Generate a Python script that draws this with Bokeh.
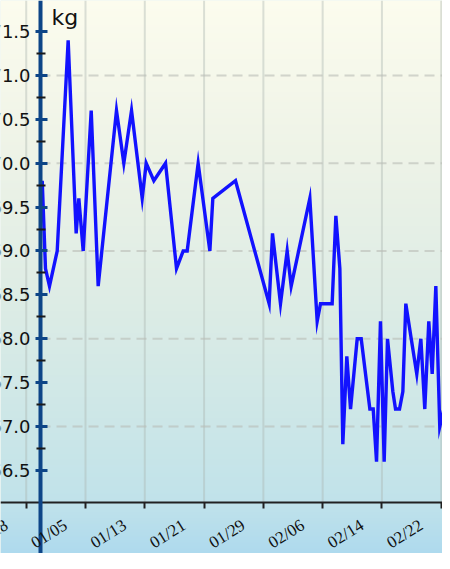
import numpy as np
from bokeh.plotting import figure
from bokeh.models import (LinearAxis, FixedTicker, PrintfTickFormatter, Label,
                          LabelSet, ColumnDataSource, Range1d)
from bokeh.embed import file_html
from bokeh.resources import INLINE

# ---- data (days counted from 01/05) ----
tick_labels = ["12/28", "01/05", "01/13", "01/21", "01/29", "02/06", "02/14", "02/22", "03/02"]
tick_days = [-8, 0, 8, 16, 24, 32, 40, 48, 56]

day_offsets = [-5.84, -5.40, -4.86, -3.82, -2.34, -1.26, -0.90, -0.31, 0.77, 1.71,
               4.18, 5.17, 6.21, 7.65, 8.19, 9.22, 10.80, 12.28, 13.18, 13.72,
               15.20, 16.78, 17.18, 20.24, 24.78, 25.23, 26.31, 27.21, 27.75, 30.27,
               31.26, 31.71, 33.28, 33.78, 34.32, 34.72, 35.26, 35.76, 36.66, 37.20,
               38.37, 38.82, 39.27, 39.80, 40.30, 40.75, 41.47, 41.83, 42.37, 42.82,
               43.22, 43.95, 44.70, 45.25, 45.78, 46.32, 46.78, 47.27, 47.80, 48.35,
               48.80, 49.25]
weights = [69.8, 68.8, 68.6, 69.0, 71.4, 69.2, 69.6, 69.0, 70.6, 68.6,
           70.6, 70.0, 70.6, 69.6, 70.0, 69.8, 70.0, 68.8, 69.0, 69.0,
           70.0, 69.0, 69.6, 69.8, 68.4, 69.2, 68.4, 69.0, 68.6, 69.6,
           68.2, 68.4, 68.4, 69.4, 68.8, 66.8, 67.8, 67.2, 68.0, 68.0,
           67.2, 67.2, 66.6, 68.2, 66.6, 68.0, 67.4, 67.2, 67.2, 67.4,
           68.4, 68.0, 67.6, 68.0, 67.2, 68.2, 67.6, 68.6, 67.0, 67.2,
           67.0, 67.2]

kg_ticks = [66.5, 67.0, 67.5, 68.0, 68.5, 69.0, 69.5, 70.0, 70.5, 71.0, 71.5]
kg_minor = [66.75, 67.25, 67.75, 68.25, 68.75, 69.25, 69.75, 70.25, 70.75, 71.25]
grid_kg = [67.0, 68.0, 69.0, 70.0, 71.0]
unit_label = "kg"

# ---- layout constants ----
W, H = 442, 553
x0, x1 = -11.47, 48.17
y0, y1 = 65.5547, 71.853
yaxis_day = -6.072
xaxis_kg = 66.1355
FONT = "DejaVu Sans"

p = figure(width=W, height=H, x_range=Range1d(x0, x1), y_range=Range1d(y0, y1),
           x_axis_type=None, y_axis_type=None, toolbar_location=None,
           output_backend="svg", min_border=0, outline_line_color=None)
p.background_fill_color = "#e6f1ea"
p.border_fill_color = "#e6f1ea"

# ---- background gradient (top cream -> bottom light blue) ----
stops_y = [0, 150, 300, 450, 502, 569]
stops_c = np.array([[252, 252, 238], [238, 243, 231], [221, 236, 229],
                    [200, 229, 232], [192, 226, 234], [168, 215, 239]], dtype=float)
rows = np.arange(H)[::-1].astype(float)  # pixel row for each image row (bottom first)
img = np.empty((H, 2), dtype=np.uint32)
view = img.view(dtype=np.uint8).reshape((H, 2, 4))
for ch in range(3):
    col = np.interp(rows, stops_y, stops_c[:, ch])
    view[:, :, ch] = np.round(col)[:, None].astype(np.uint8)
view[:, :, 3] = 255
p.image_rgba(image=[img], x=x0, y=y0, dw=x1 - x0, dh=y1 - y0)

# ---- grid lines ----
p.segment(x0=tick_days, y0=[xaxis_kg] * len(tick_days), x1=tick_days, y1=[y1] * len(tick_days),
          line_color="#aab4ae", line_alpha=0.4, line_width=2)
p.segment(x0=[yaxis_day] * len(grid_kg), y0=grid_kg, x1=[x1] * len(grid_kg), y1=grid_kg,
          line_color="#b9bdb6", line_alpha=0.6, line_width=2, line_dash="10 6")

# ---- data line ----
p.line(day_offsets, weights, line_color="#1212ff", line_width=3.4, line_join="miter")

# ---- x axis (line + ticks) ----
xaxis = LinearAxis(fixed_location=xaxis_kg,
                   ticker=FixedTicker(ticks=tick_days, minor_ticks=[]))
xaxis.axis_line_color = "#202020"
xaxis.axis_line_width = 2
xaxis.major_tick_line_color = "#202020"
xaxis.major_tick_line_width = 2
xaxis.major_tick_in = 0
xaxis.major_tick_out = 6
xaxis.major_label_text_color = None
p.add_layout(xaxis, "below")

src = ColumnDataSource(dict(x=tick_days, y=[xaxis_kg] * len(tick_days), text=tick_labels))
xlabels = LabelSet(x="x", y="y", text="text", source=src, angle=0.56,
                   text_align="right", text_baseline="middle",
                   x_offset=-20, y_offset=-21, text_font=FONT,
                   text_font_size="17px", text_color="#111111")
p.add_layout(xlabels)

# ---- y axis ----
yaxis = LinearAxis(fixed_location=yaxis_day,
                   ticker=FixedTicker(ticks=kg_ticks, minor_ticks=kg_minor),
                   formatter=PrintfTickFormatter(format="%.1f"))
yaxis.axis_line_color = "#0d4587"
yaxis.axis_line_width = 4
yaxis.major_tick_line_color = "#0d4587"
yaxis.major_tick_line_width = 3
yaxis.major_tick_in = 7
yaxis.major_tick_out = 5
yaxis.minor_tick_line_color = "#1a1a1a"
yaxis.minor_tick_line_width = 2
yaxis.minor_tick_in = 5
yaxis.minor_tick_out = 4
yaxis.major_label_standoff = 5
yaxis.major_label_text_font = FONT
yaxis.major_label_text_font_size = "18px"
yaxis.major_label_text_color = "#111111"
p.add_layout(yaxis, "left")

p.add_layout(Label(x=yaxis_day, y=y1, x_offset=11, y_offset=-4, text=unit_label,
                   text_baseline="top", text_font=FONT, text_font_size="22px",
                   text_color="#111111"))

open("out.html", "w").write(file_html(p, INLINE))
